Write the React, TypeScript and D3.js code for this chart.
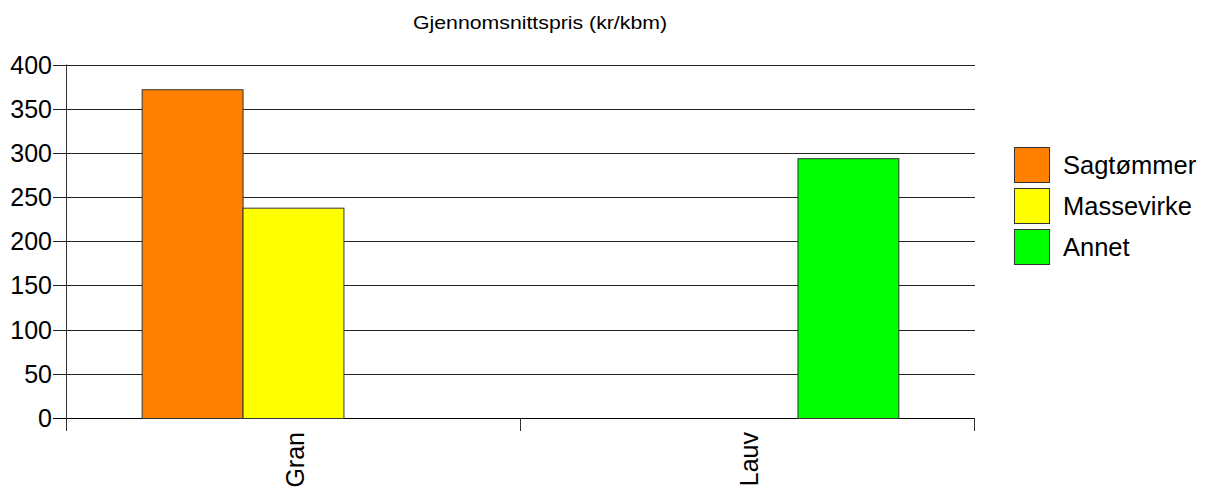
import React from "react";
import * as d3 from "d3";

const title = "Gjennomsnittspris (kr/kbm)";
const categories = ["Gran", "Lauv"];
const seriesNames = ["Sagtømmer", "Massevirke", "Annet"];
const seriesColors = ["#ff8000", "#ffff00", "#00ff00"];
const sagtommer: (number | null)[] = [372, null];
const massevirke: (number | null)[] = [238, null];
const annet: (number | null)[] = [null, 294];
const yTicks = [0, 50, 100, 150, 200, 250, 300, 350, 400];

const W = 1211;
const H = 488;
const FONT = "'Liberation Sans', Arial, sans-serif";

export default function App() {
  const left = 66;
  const right = 974;
  const top = 64.5;
  const bottom = 418;
  const series = [sagtommer, massevirke, annet];

  const x0 = d3.scaleBand<string>().domain(categories).range([left, right]).padding(0);
  const x1 = d3
    .scaleBand<string>()
    .domain(seriesNames)
    .range([0, x0.bandwidth()])
    .paddingInner(0)
    .paddingOuter(0.75);
  const y = d3.scaleLinear().domain([0, 400]).range([bottom, top]);

  const tickXs = [left, ...categories.map((c) => (x0(c) as number) + x0.bandwidth())];

  return (
    <svg
      width={W}
      height={H}
      style={{ position: "absolute", left: 0, top: 0, display: "block" }}
      fontFamily={FONT}
    >
      <rect x={0} y={0} width={W} height={H} fill="#fff" />
      <text
        x={540}
        y={28.5}
        fontSize={18.5}
        textAnchor="middle"
        textLength={254}
        lengthAdjust="spacingAndGlyphs"
        fill="#000"
      >
        {title}
      </text>
      {yTicks.map((t) => (
        <g key={t}>
          <line
            x1={53}
            x2={right + 1}
            y1={Math.round(y(t)) + 0.5}
            y2={Math.round(y(t)) + 0.5}
            stroke={t === 0 ? "#000" : "#222"}
            strokeWidth={1}
          />
          <text x={52} y={y(t)} dy="0.36em" fontSize={25} textAnchor="end" fill="#000">
            {t}
          </text>
        </g>
      ))}
      <line x1={left + 0.5} x2={left + 0.5} y1={top} y2={431} stroke="#333" />
      {tickXs.map((tx, i) => (
        <line key={i} x1={tx + 0.5} x2={tx + 0.5} y1={bottom} y2={431} stroke="#333" />
      ))}
      {categories.map((c, ci) =>
        series.map((s, si) => {
          const v = s[ci];
          if (v == null) return null;
          const bx = (x0(c) as number) + (x1(seriesNames[si]) as number);
          return (
            <rect
              key={c + si}
              x={bx + 0.5}
              y={y(v) + 0.5}
              width={x1.bandwidth()}
              height={bottom - y(v)}
              fill={seriesColors[si]}
              stroke="#333"
              strokeWidth={1}
            />
          );
        })
      )}
      {categories.map((c) => {
        const cx = (x0(c) as number) + x0.bandwidth() / 2;
        return (
          <text
            key={c}
            transform={`translate(${cx + 2},432) rotate(-90)`}
            dy="0.36em"
            fontSize={25}
            textAnchor="end"
            fill="#000"
          >
            {c}
          </text>
        );
      })}
      {seriesNames.map((n, i) => (
        <g key={n}>
          <rect
            x={1014.5}
            y={147.5 + i * 41}
            width={35}
            height={35}
            fill={seriesColors[i]}
            stroke="#333"
          />
          <text x={1063} y={165 + i * 41} dy="0.36em" fontSize={25.5} fill="#000">
            {n}
          </text>
        </g>
      ))}
    </svg>
  );
}
